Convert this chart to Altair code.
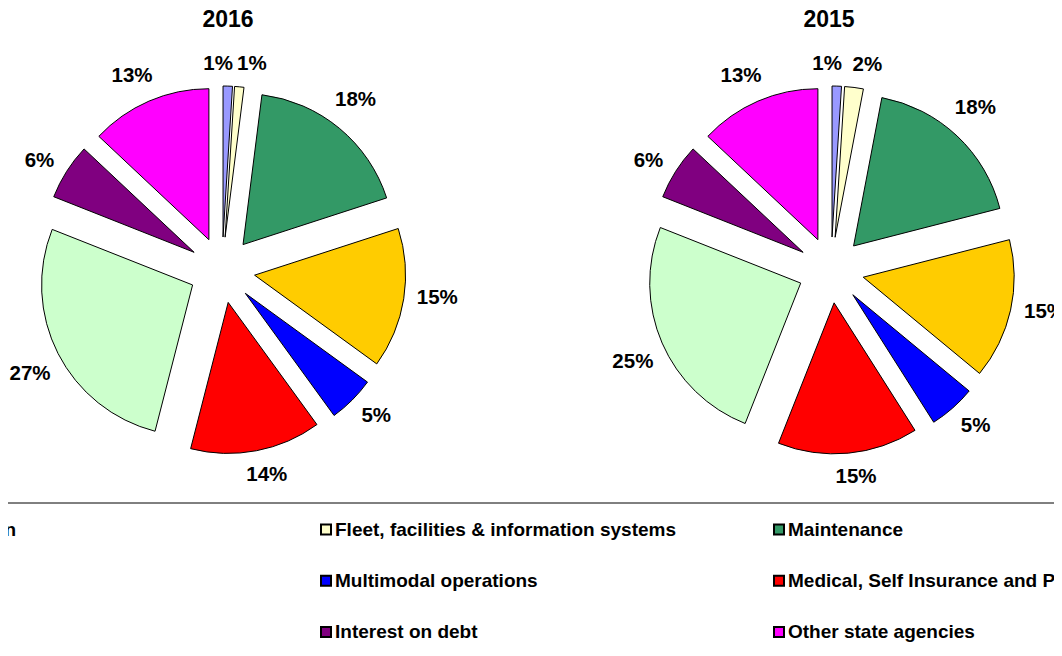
import altair as alt
import pandas as pd

# ---------------- data ----------------
categories = [
    "Administration",
    "Fleet, facilities & information systems",
    "Maintenance",
    "Preservation",
    "Multimodal operations",
    "Medical, Self Insurance and Pensions",
    "Construction",
    "Interest on debt",
    "Other state agencies",
]
colors = ["#9999FF", "#FFFFCC", "#339966", "#FFCC00", "#0000FF",
          "#FF0000", "#CCFFCC", "#800080", "#FF00FF"]
years = ["2016", "2015"]
share_2016 = [1, 1, 18, 15, 5, 14, 27, 6, 13]
share_2015 = [1, 2, 18, 15, 5, 15, 25, 6, 13]

rows = []
for yr, vals in zip(years, [share_2016, share_2015]):
    for i, (c, v) in enumerate(zip(categories, vals)):
        rows.append({"year": yr, "category": c, "order": i, "value": v})
df = pd.DataFrame(rows)
legend_df = pd.DataFrame({"category": categories, "order": list(range(len(categories)))})
title_df = pd.DataFrame({"year": years})

# ---------------- layout (svg px) ----------------
W, H = 1046, 640
CX16, CX15, CY = 214, 823, 262
R, EXPLODE = 151, 33
LABEL_GAP = 196          # radius (from pie centre) where the label box starts
FONT = "Liberation Sans"
LABEL_FS = 20.5

color = alt.Color("category:N", scale=alt.Scale(domain=categories, range=colors), legend=None)

base = (
    alt.Chart(df)
    .transform_joinaggregate(total="sum(value)", groupby=["year"])
    .transform_window(cum="sum(value)", sort=[alt.SortField("order")], groupby=["year"], frame=[None, 0])
    .transform_calculate(
        t1="2*PI*datum.cum/datum.total",
        t0="2*PI*(datum.cum-datum.value)/datum.total",
        cx=f"datum.year == '2016' ? {CX16} : {CX15}",
        label="datum.value + '%'",
    )
    .transform_calculate(
        mid="(datum.t0+datum.t1)/2",
    )
    .transform_calculate(
        # small slices at the top get their labels spread apart, others slightly counter-clockwise
        la="datum.mid + (datum.order == 0 ? -0.05 : (datum.order == 1 ? 0.05 : -0.026))",
        px=f"datum.cx + {EXPLODE}*sin(datum.mid)",
        py=f"{CY} - {EXPLODE}*cos(datum.mid)",
        lw=f"length(datum.label) * {LABEL_FS} * 0.65",
    )
    .transform_calculate(
        lr=f"{LABEL_GAP} + abs(sin(datum.la))*datum.lw/2 + abs(cos(datum.la))*{LABEL_FS}/2",
    )
    .transform_calculate(
        lx="datum.cx + datum.lr*sin(datum.la)",
        ly=f"{CY} - datum.lr*cos(datum.la)",
    )
)

arcs = base.mark_arc(radius=R, stroke="black", strokeWidth=1).encode(
    theta=alt.Theta("t0:Q", scale=None),
    theta2="t1:Q",
    x=alt.X("px:Q", scale=None, axis=None),
    y=alt.Y("py:Q", scale=None, axis=None),
    color=color,
)

labels = base.mark_text(font=FONT, fontSize=LABEL_FS, fontWeight="bold", align="center",
                        baseline="middle", color="black").encode(
    x=alt.X("lx:Q", scale=None, axis=None),
    y=alt.Y("ly:Q", scale=None, axis=None),
    text="label:N",
)

titles = (
    alt.Chart(title_df)
    .transform_calculate(tx=f"datum.year == '2016' ? {CX16 + 6} : {CX15 - 2}")
    .mark_text(font=FONT, fontSize=23, fontWeight="bold", align="center", baseline="middle", color="black")
    .encode(x=alt.X("tx:Q", scale=None, axis=None), y=alt.value(12), text="year:N")
)

rule = alt.Chart(title_df.head(1)).mark_rule(color="black", strokeWidth=1).encode(
    x=alt.value(0), x2=alt.value(W), y=alt.value(495)
)

legend_base = alt.Chart(legend_df).transform_calculate(
    col="datum.order % 3",
    row="floor(datum.order / 3)",
).transform_calculate(
    mx="318 + 453*(datum.col - 1)",
    tx="327 + 453*(datum.col - 1)",
    my="521.5 + 51.3*datum.row",
)

markers = legend_base.mark_square(size=100, stroke="black", strokeWidth=2, opacity=1).encode(
    x=alt.X("mx:Q", scale=None, axis=None),
    y=alt.Y("my:Q", scale=None, axis=None),
    color=color,
)

legend_text = legend_base.mark_text(font=FONT, fontSize=19, fontWeight="bold", align="left",
                                    baseline="middle", color="black").encode(
    x=alt.X("tx:Q", scale=None, axis=None),
    y=alt.Y("my:Q", scale=None, axis=None),
    text="category:N",
)

chart = (
    alt.layer(arcs, labels, titles, rule, markers, legend_text)
    .properties(width=W, height=H, padding=0, autosize=alt.AutoSizeParams(type="none"))
    .configure_view(stroke=None)
)

chart.save("out.html", embed_options={"renderer": "svg", "actions": False})
